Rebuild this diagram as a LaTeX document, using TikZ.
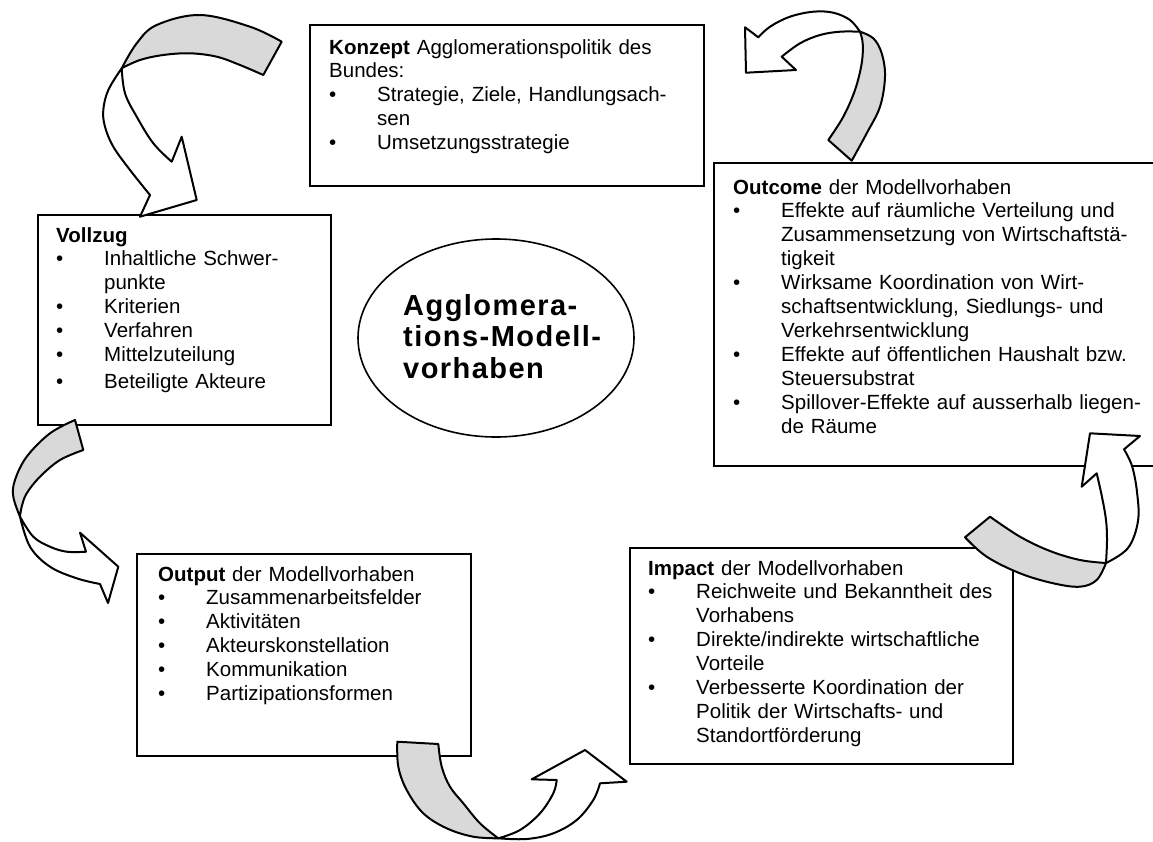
\documentclass[tikz,border=0pt]{standalone}
\usepackage{fontspec}
\setmainfont{Liberation Sans}
\newfontfamily\ellfont[LetterSpace=5]{Liberation Sans}
\usetikzlibrary{shapes.geometric}
\definecolor{bandgray}{RGB}{217,217,217}
\newcommand\bul{\makebox[48pt][l]{\textbullet}}
\newcommand\ind{\hspace*{48pt}}
\tikzset{
  box/.style={draw, line width=2.4pt, fill=white, inner sep=0pt, anchor=north west},
  txt/.style={anchor=base west, inner sep=0pt, text width=460pt, align=left,
              font=\fontsize{20.5}{23.9}\selectfont},
  band/.style={draw, line width=2pt, line join=round, fill=bandgray},
  front/.style={draw, line width=2pt, line join=round, fill=white},
  oval/.style={draw, ellipse, line width=1.6pt, fill=white, inner sep=0pt}
}
\begin{document}
\begin{tikzpicture}[x=1pt,y=-1pt]
\useasboundingbox (0,0) rectangle (1153,841);

% boxes
\node[box, minimum width=394pt, minimum height=161pt] (konzept) at (309,24) {};
\node[box, minimum width=293pt, minimum height=210pt] (vollzug) at (37,214) {};
\node[box, minimum width=450pt, minimum height=303pt] (outcome) at (713,162) {};
\node[box, minimum width=334pt, minimum height=202pt] (output) at (136,553) {};
\node[box, minimum width=383pt, minimum height=216pt] (impact) at (629,547) {};
\node[oval, minimum width=276pt, minimum height=198pt] (centre) at (496,338) {};

% texts
\node[txt] (konzeptT) at (329,54) {\textbf{Konzept} Agglomerationspolitik des\\
Bundes:\\
\bul Strategie, Ziele, Handlungsach-\\
\ind sen\\
\bul Umsetzungsstrategie};

\node[txt] (vollzugT) at (56,242) {\textbf{Vollzug}\\
\bul Inhaltliche Schwer-\\
\ind punkte\\
\bul Kriterien\\
\bul Verfahren\\
\bul Mittelzuteilung\\[3pt]
\bul Beteiligte Akteure};

\node[txt] (outcomeT) at (733,194) {\textbf{Outcome} der Modellvorhaben\\
\bul Effekte auf räumliche Verteilung und\\
\ind Zusammensetzung von Wirtschaftstä-\\
\ind tigkeit\\
\bul Wirksame Koordination von Wirt-\\
\ind schaftsentwicklung, Siedlungs- und\\
\ind Verkehrsentwicklung\\
\bul Effekte auf öffentlichen Haushalt bzw.\\
\ind Steuersubstrat\\
\bul Spillover-Effekte auf ausserhalb liegen-\\
\ind de Räume};

\node[txt] (outputT) at (158,581) {\textbf{Output} der Modellvorhaben\\
\bul Zusammenarbeitsfelder\\
\bul Aktivitäten\\
\bul Akteurskonstellation\\
\bul Kommunikation\\
\bul Partizipationsformen};

\node[txt] (impactT) at (648,575) {\textbf{Impact} der Modellvorhaben\\
\bul Reichweite und Bekanntheit des\\
\ind Vorhabens\\
\bul Direkte/indirekte wirtschaftliche\\
\ind Vorteile\\
\bul Verbesserte Koordination der\\
\ind Politik der Wirtschafts- und\\
\ind Standortförderung};

\node[anchor=base west, inner sep=0pt, text width=220pt, align=left,
      font=\ellfont\bfseries\fontsize{29}{31.5}\selectfont] (centreT) at (403,315)
      {Agglomera-\\tions-Modell-\\vorhaben};

% arrow 1: Konzept -> Vollzug
\filldraw[band] (281.7,41.7) -- plot[smooth, tension=0.6] coordinates {(281.7,41.7) (250,26.7) (200,15) (156.7,25) (136.7,43.3) (121.7,68.3)}
  -- plot[smooth, tension=0.6] coordinates {(121.7,68.3) (140,60) (163.3,55) (190,53.3) (216.7,56.7) (240,65) (263.3,75)} -- cycle;
\filldraw[front] (121.7,68.3) -- plot[smooth, tension=0.6] coordinates {(121.7,68.3) (108.3,90) (103.3,110) (105,126.7) (113.3,146.7) (130,170) (150,195)}
  -- (140,216.7) -- (196.7,200) -- (181.7,136.7) -- (171.7,161.7)
  -- plot[smooth, tension=0.6] coordinates {(171.7,161.7) (153.3,143.3) (136.7,116.7) (125,93.3) (121.7,68.3)} -- cycle;

% arrow 2: Outcome -> Konzept
\filldraw[band] (828.3,140) -- plot[smooth, tension=0.6] coordinates {(828.3,140) (843.3,116.7) (855,90) (861.7,63.3) (862.7,43.3) (860,31.7)}
  -- plot[smooth, tension=0.6] coordinates {(860,31.7) (873.3,38.3) (881.7,53.3) (885,76.7) (880,106.7) (866.7,133.3) (851.7,160.7)} -- cycle;
\filldraw[front] (860,31.7) -- plot[smooth, tension=0.6] coordinates {(860,31.7) (850,20) (833.3,12.7) (813.3,11.7) (790,16.7) (770,26.7) (758.3,37.3)}
  -- (745,27.3) -- (746,72.7) -- (796,70) -- (781.7,56.7)
  -- plot[smooth, tension=0.6] coordinates {(781.7,56.7) (800,43.3) (820,35) (840,31.7) (860,31.7)} -- cycle;

% arrow 3: Vollzug -> Output
\filldraw[band] (75,420) -- plot[smooth, tension=0.6] coordinates {(75,420) (50,433.3) (26.7,456.7) (15,480) (13.3,496.7) (20,516.7)}
  -- plot[smooth, tension=0.6] coordinates {(20,516.7) (21.7,506.7) (26.7,493.3) (40,476.7) (60,460) (83.3,450)} -- cycle;
\filldraw[front] (20,516.7) -- plot[smooth, tension=0.6] coordinates {(20,516.7) (33.3,536.7) (50,546.7) (66.7,551.7) (86,551.7)}
  -- (80,532.7) -- (118.3,566.7) -- (108,603) -- (100,584)
  -- plot[smooth, tension=0.6] coordinates {(100,584) (76.7,578.3) (50,566.7) (30,546.7) (20,516.7)} -- cycle;

% arrow 4: Impact -> Outcome
\filldraw[band] (990,516.7) -- plot[smooth, tension=0.6] coordinates {(990,516.7) (1020,536.7) (1050,551) (1080,560) (1106,563)}
  -- plot[smooth, tension=0.6] coordinates {(1106,563) (1096.7,580) (1080,586.7) (1053.3,583.3) (1020,573.3) (986.7,556.7) (965,537.3)} -- cycle;
\filldraw[front] (1106,563) -- plot[smooth, tension=0.6] coordinates {(1106,563) (1107,540) (1106,520) (1102,497) (1096.7,473.3)}
  -- (1081.7,486.7) -- (1090,433.3) -- (1140,436) -- (1124,449.3)
  -- plot[smooth, tension=0.6] coordinates {(1124,449.3) (1132,466) (1137,492) (1138,521) (1128,548) (1106,563)} -- cycle;

% arrow 5: Output -> Impact
\filldraw[band] (397.3,741.7) -- plot[smooth, tension=0.6] coordinates {(397.3,741.7) (398.3,766.7) (406.7,790) (423.3,813.3) (446.7,828.3) (473.3,836.7) (498.3,838.3)}
  -- plot[smooth, tension=0.6] coordinates {(498.3,838.3) (480,823.3) (463.3,803.3) (450,786.7) (441.7,766.7) (438.3,744)} -- cycle;
\filldraw[front] (498.3,838.3) -- plot[smooth, tension=0.6] coordinates {(498.3,838.3) (520,830) (540,813.3) (553.3,793.3) (556.7,780)}
  -- (531.7,779.3) -- (585,750) -- (626.7,781.7) -- (600,783.3)
  -- plot[smooth, tension=0.6] coordinates {(600,783.3) (593.3,800) (576.7,820) (553.3,833.3) (526.7,839) (498.3,838.3)} -- cycle;
\end{tikzpicture}
\end{document}
